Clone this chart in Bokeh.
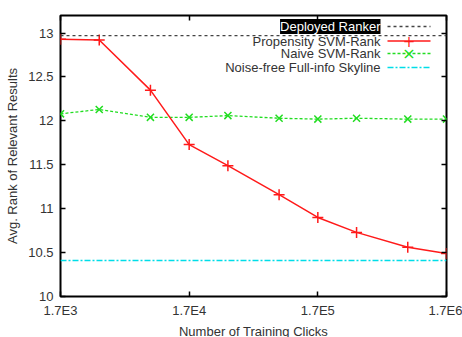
from bokeh.plotting import figure
from bokeh.models import (Range1d, LogAxis, LinearAxis, FixedTicker, Span, Label, Arrow,
                          ColumnDataSource)
from bokeh.embed import file_html
from bokeh.resources import INLINE

# ---- data ----
clicks = [1.7e3, 3.4e3, 8.5e3, 1.7e4, 3.4e4, 8.5e4, 1.7e5, 3.4e5, 8.5e5, 1.7e6]
propensity = [12.93, 12.92, 12.35, 11.73, 11.49, 11.16, 10.90, 10.73, 10.56, 10.49]
naive = [12.08, 12.13, 12.04, 12.04, 12.06, 12.03, 12.02, 12.03, 12.02, 12.02]
deployed = 12.97
skyline = 10.41
x_ticks = [1.7e3, 1.7e4, 1.7e5, 1.7e6]
x_tick_labels = ["1.7E3", "1.7E4", "1.7E5", "1.7E6"]
y_ticks = [10, 10.5, 11, 11.5, 12, 12.5, 13]
y_tick_labels = ["10", "10.5", "11", "11.5", "12", "12.5", "13"]
series_names = ["Deployed Ranker", "Propensity SVM-Rank", "Naive SVM-Rank",
                "Noise-free Full-info Skyline"]

FONT = "Liberation Sans"
TXT = "#333333"
RED = "#ff1a1a"
GREEN = "#22dd22"
CYAN = "#00dde8"
BLACK = "#444444"

FH = 281
p = figure(frame_width=386, frame_height=FH, x_axis_type="log", output_backend="svg",
           toolbar_location=None, x_range=Range1d(1.7e3, 1.7e6),
           y_range=Range1d(10, 13.2),
           min_border_left=60, min_border_right=16, min_border_top=15,
           min_border_bottom=41)
p.background_fill_color = "white"
p.border_fill_color = "white"
p.outline_line_color = "black"
p.outline_line_width = 2
p.grid.visible = False

xa = p.xaxis[0]
xa.ticker = FixedTicker(ticks=x_ticks)
xa.major_label_overrides = {t: l for t, l in zip(x_ticks, x_tick_labels)}
ya = p.yaxis[0]
ya.ticker = FixedTicker(ticks=y_ticks)
ya.major_label_overrides = {t: l for t, l in zip(y_ticks, y_tick_labels)}
for ax in (xa, ya):
    ax.axis_line_color = None
    ax.major_tick_in = 5
    ax.major_tick_out = 0
    ax.major_tick_line_color = "black"
    ax.major_tick_line_width = 1.5
    ax.minor_tick_line_color = None
    ax.major_label_text_font = FONT
    ax.major_label_text_font_size = "13px"
    ax.major_label_text_color = TXT
    ax.axis_label_text_font = FONT
    ax.axis_label_text_font_size = "13px"
    ax.axis_label_text_font_style = "normal"
    ax.axis_label_text_color = TXT
xa.axis_label = "Number of Training Clicks"
xa.major_label_standoff = 6
xa.axis_label_standoff = 3
ya.axis_label = "Avg. Rank of Relevant Results"
ya.major_label_standoff = 7
ya.axis_label_standoff = 5

# mirrored tick axes
top = LogAxis(ticker=FixedTicker(ticks=x_ticks))
right = LinearAxis(ticker=FixedTicker(ticks=y_ticks))
for ax in (top, right):
    ax.axis_line_color = None
    ax.major_tick_in = 5
    ax.major_tick_out = 0
    ax.major_tick_line_color = "black"
    ax.major_tick_line_width = 1.5
    ax.minor_tick_line_color = None
    ax.major_label_text_font_size = "0px"
    ax.major_label_text_alpha = 0
    ax.major_label_standoff = 0
p.add_layout(top, "above")
p.add_layout(right, "right")

# data series
src = ColumnDataSource(dict(x=clicks, prop=propensity, naive=naive))
p.add_layout(Span(location=deployed, dimension="width", line_color=BLACK,
                  line_width=1.3, line_dash="3 3"))
p.add_layout(Span(location=skyline, dimension="width", line_color=CYAN,
                  line_width=1.3, line_dash="6 2 2 2"))
p.line("x", "naive", source=src, line_color=GREEN, line_width=1.3, line_dash="3 2")
p.scatter("x", "naive", source=src, marker="x", size=10, line_color=GREEN,
          line_width=1.5)
p.line("x", "prop", source=src, line_color=RED, line_width=1.5)
p.scatter("x", "prop", source=src, marker="cross", size=11, line_color=RED,
          line_width=1.5)

# custom gnuplot-style legend, placed in frame-relative screen px (y up from bottom)
rows_px = [270, 255.5, 243, 229]
text_right = 320
s0, s1 = 327, 370
styles = [(BLACK, "3 3", None), (RED, "solid", "+"), (GREEN, "3 2", "x"),
          (CYAN, "6 2 2 2", None)]
for i, (name, yy, (col, dash, mk)) in enumerate(zip(series_names, rows_px, styles)):
    lab = Label(x=text_right, y=yy, x_units="screen", y_units="screen", text=name,
                text_align="right", text_baseline="middle", text_font=FONT,
                text_font_size="13px", text_color=TXT)
    if i == 0:
        lab.text_color = "white"
        lab.background_fill_color = "black"
    p.add_layout(lab)
    p.add_layout(Arrow(x_start=s0, y_start=yy, x_end=s1, y_end=yy,
                       start_units="screen", end_units="screen", end=None,
                       line_color=col, line_width=1.4, line_dash=dash))
    if mk == "+":
        p.add_layout(Label(x=(s0 + s1) / 2, y=yy, x_units="screen", y_units="screen",
                           text="+", text_align="center", text_baseline="middle",
                           text_font="DejaVu Sans", text_font_size="15px",
                           text_color=col))
    elif mk == "x":
        p.add_layout(Label(x=(s0 + s1) / 2, y=yy, x_units="screen", y_units="screen",
                           text="\u00d7", text_align="center", text_baseline="middle",
                           text_font="DejaVu Sans", text_font_size="16px",
                           text_color=col))

open("out.html", "w").write(file_html(p, INLINE))
